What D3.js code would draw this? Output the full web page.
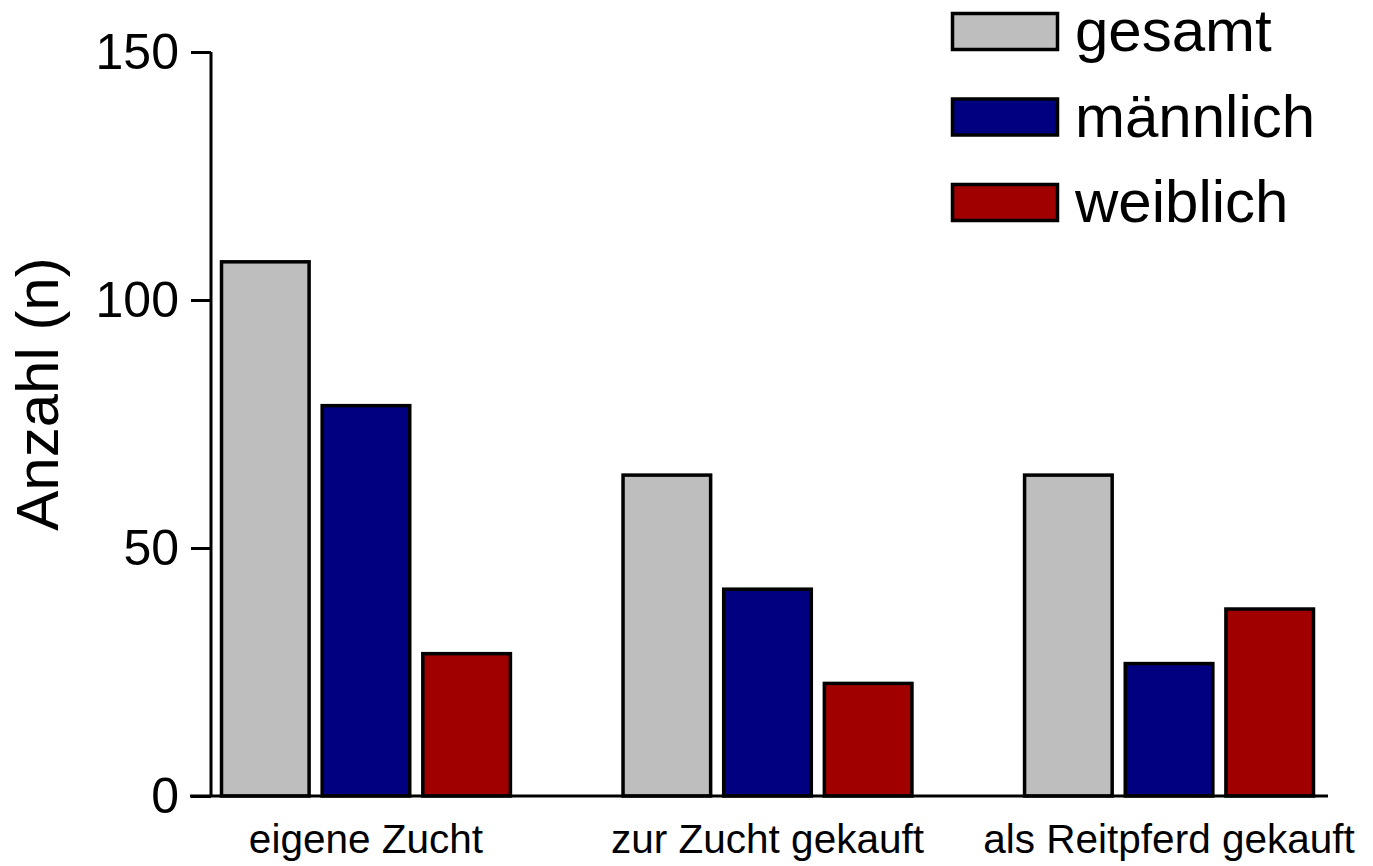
<!DOCTYPE html>
<html>
<head>
<meta charset="utf-8">
<script src="https://cdn.jsdelivr.net/npm/d3@7"></script>
<style>
  body { margin: 0; background: #fff; }
  text { font-family: "Liberation Sans", Arial, sans-serif; fill: #000; }
</style>
</head>
<body>
<div id="chart"></div>
<script>
const categories = ["eigene Zucht", "zur Zucht gekauft", "als Reitpferd gekauft"];
const seriesNames = ["gesamt", "männlich", "weiblich"];
const gesamt = [108, 65, 65];
const maennlich = [79, 42, 27];
const weiblich = [29, 23, 38];
const yTicks = [0, 50, 100, 150];
const colors = ["#bebebe", "#000080", "#a00000"];

const seriesValues = [gesamt, maennlich, weiblich];
const data = categories.map((c, i) => ({
    category: c,
    values: seriesNames.map((s, j) => ({series: s, value: seriesValues[j][i]}))
}));

const width = 1373, height = 866;

const svg = d3.select("#chart").append("svg")
    .attr("width", width)
    .attr("height", height);

const x0 = d3.scaleBand()
    .domain(categories)
    .range([220, 1315])
    .paddingInner(0.273)
    .paddingOuter(0);

const x1 = d3.scaleBand()
    .domain(seriesNames)
    .range([0, x0.bandwidth()])
    .paddingInner(0.1);

const y = d3.scaleLinear()
    .domain([0, 150])
    .range([796, 52]);

const color = d3.scaleOrdinal().domain(seriesNames).range(colors);

// bars
const groups = svg.selectAll(".group")
    .data(data)
  .enter().append("g")
    .attr("transform", d => "translate(" + x0(d.category) + ",0)");

groups.selectAll("rect")
    .data(d => d.values)
  .enter().append("rect")
    .attr("x", d => x1(d.series) + 1.5)
    .attr("width", x1.bandwidth() - 3)
    .attr("y", d => y(d.value) + 1.5)
    .attr("height", d => y(0) - y(d.value) - 1.5)
    .attr("fill", d => color(d.series))
    .attr("stroke", "#000")
    .attr("stroke-width", 3.5);

// y axis
const yAxis = d3.axisLeft(y)
    .tickValues(yTicks)
    .tickSize(20)
    .tickPadding(12)
    .tickSizeOuter(0);

const gy = svg.append("g")
    .attr("transform", "translate(211,0)")
    .call(yAxis);
gy.select(".domain").attr("stroke-width", 3).attr("d", "M0," + y(150) + "V" + y(0));
gy.selectAll(".tick line").attr("stroke-width", 3);
gy.selectAll(".tick text")
    .style("font-size", "50px")
    .style("font-family", "'Liberation Sans', Arial, sans-serif");

// x axis line
svg.append("line")
    .attr("x1", 190)
    .attr("x2", 1328)
    .attr("y1", y(0))
    .attr("y2", y(0))
    .attr("stroke", "#000")
    .attr("stroke-width", 3);

// category labels
svg.selectAll(".cat")
    .data(categories)
  .enter().append("text")
    .attr("x", d => x0(d) + x0.bandwidth() / 2)
    .attr("y", 853)
    .attr("text-anchor", "middle")
    .style("font-size", "40.5px")
    .text(d => d);

// y axis title
svg.append("text")
    .attr("transform", "translate(58,394) rotate(-90)")
    .attr("text-anchor", "middle")
    .style("font-size", "60px")
    .text("Anzahl (n)");

// legend
const legend = svg.selectAll(".legend")
    .data(seriesNames)
  .enter().append("g")
    .attr("transform", (d, i) => "translate(951," + (12 + i * 85.5) + ")");

legend.append("rect")
    .attr("x", 1.5)
    .attr("y", 1.5)
    .attr("width", 105)
    .attr("height", 36)
    .attr("fill", d => color(d))
    .attr("stroke", "#000")
    .attr("stroke-width", 3.5);

legend.append("text")
    .attr("x", 124)
    .attr("y", 39)
    .style("font-size", "60px")
    .text(d => d);
</script>
</body>
</html>
